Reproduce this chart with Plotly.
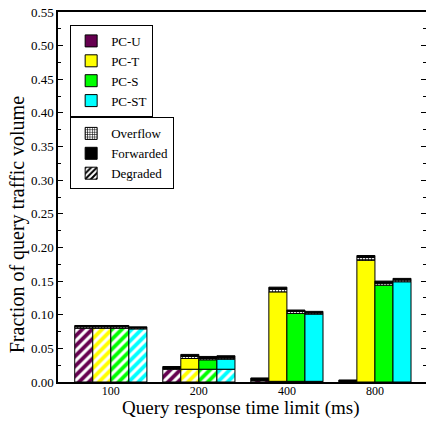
import plotly.graph_objects as go

categories = ["100", "200", "400", "800"]
series = ["PC-U", "PC-T", "PC-S", "PC-ST"]
colors = {"PC-U": "#660050", "PC-T": "#FFFF00", "PC-S": "#00FF00", "PC-ST": "#00FFFF"}

degraded = {
    "PC-U": [0.080, 0.019, 0.002, 0.000],
    "PC-T": [0.080, 0.019, 0.001, 0.000],
    "PC-S": [0.080, 0.019, 0.001, 0.000],
    "PC-ST": [0.079, 0.019, 0.001, 0.000],
}
normal = {
    "PC-U": [0.000, 0.000, 0.000, 0.000],
    "PC-T": [0.000, 0.016, 0.133, 0.181],
    "PC-S": [0.000, 0.014, 0.101, 0.144],
    "PC-ST": [0.000, 0.015, 0.100, 0.149],
}
overflow = {
    "PC-U": [0.002, 0.001, 0.001, 0.001],
    "PC-T": [0.002, 0.003, 0.004, 0.004],
    "PC-S": [0.002, 0.002, 0.003, 0.003],
    "PC-ST": [0.002, 0.002, 0.002, 0.003],
}
forwarded = {
    "PC-U": [0.002, 0.003, 0.003, 0.002],
    "PC-T": [0.002, 0.003, 0.003, 0.003],
    "PC-S": [0.002, 0.003, 0.002, 0.003],
    "PC-ST": [0.001, 0.003, 0.002, 0.002],
}

FONT = "Liberation Serif"
LINE = dict(color="black", width=1)

def nz(vals):
    return [v if v > 0 else None for v in vals]

fig = go.Figure()

for s in series:
    c = colors[s]
    base = [0.0] * len(categories)
    layers = [
        ("deg", degraded[s], dict(color=c, line=LINE,
                                  pattern=dict(shape="/", fgcolor="white", bgcolor=c,
                                               size=7, solidity=0.45, fillmode="replace"))),
        ("norm", normal[s], dict(color=c, line=LINE)),
        ("ovf", overflow[s], dict(color="white", line=LINE,
                                  pattern=dict(shape="+", fgcolor="black", bgcolor="white",
                                               size=3, solidity=0.4, fillmode="replace"))),
        ("fwd", forwarded[s], dict(color="black", line=LINE)),
    ]
    for key, vals, marker in layers:
        fig.add_trace(go.Bar(
            x=categories, y=nz(vals), base=list(base),
            offsetgroup=s, name=s, marker=marker,
            showlegend=(key == "norm"), legend="legend",
            hoverinfo="skip",
        ))
        base = [b + v for b, v in zip(base, vals)]

# legend entries for the segment types
seg_legend = [
    ("Overflow", dict(color="white", line=LINE,
                      pattern=dict(shape="+", fgcolor="black", bgcolor="white",
                                   size=3, solidity=0.4, fillmode="replace"))),
    ("Forwarded", dict(color="black", line=LINE)),
    ("Degraded", dict(color="white", line=LINE,
                      pattern=dict(shape="/", fgcolor="black", bgcolor="white",
                                   size=5, solidity=0.5, fillmode="replace"))),
]
for name, marker in seg_legend:
    fig.add_trace(go.Bar(
        x=categories, y=[None] * len(categories), offsetgroup="PC-U",
        name=name, marker=marker, legend="legend2", showlegend=True,
    ))

legend_common = dict(
    bgcolor="white", bordercolor="black", borderwidth=1,
    font=dict(family=FONT, size=13, color="black"),
    xanchor="left", yanchor="top", traceorder="normal",
    itemclick=False, itemdoubleclick=False,
)

fig.update_layout(
    width=426, height=422,
    margin=dict(l=58, r=0, t=12, b=40, autoexpand=False),
    paper_bgcolor="white", plot_bgcolor="white",
    barmode="group", bargap=0.18, bargroupgap=0,
    font=dict(family=FONT, size=13, color="black"),
    legend=dict(x=0.033, y=0.965, **legend_common),
    legend2=dict(x=0.033, y=0.715, **legend_common),
    xaxis=dict(
        type="category", range=[-0.6, 3.58], automargin=False,
        showline=True, linecolor="black", linewidth=2, mirror=True,
        ticks="", showgrid=False, zeroline=False, ticklabelstandoff=-3,
        tickfont=dict(family=FONT, size=12, color="black"),
    ),
    yaxis=dict(
        range=[0, 0.55], dtick=0.05, tick0=0, tickformat=".2f", automargin=False,
        showline=True, linecolor="black", linewidth=1.5, mirror="ticks",
        ticks="inside", ticklen=5, tickcolor="black", tickwidth=1,
        ticklabeloverflow="allow",
        minor=dict(ticks="inside", dtick=0.025, ticklen=3, tickcolor="black", showgrid=False),
        showgrid=False, zeroline=False,
        tickfont=dict(family=FONT, size=13, color="black"),
    ),
    annotations=[
        dict(text="Query response time limit (ms)", xref="paper", yref="paper",
             x=0.4946, y=-0.0716, showarrow=False, xanchor="center", yanchor="middle",
             font=dict(family=FONT, size=19, color="black")),
        dict(text="Fraction of query traffic volume", xref="paper", yref="paper",
             x=-0.111, y=0.424, showarrow=False, textangle=-90,
             xanchor="center", yanchor="middle",
             font=dict(family=FONT, size=20, color="black")),
    ],
)

fig.write_html("out.html", config={"displayModeBar": False},
               post_script="document.body.style.margin='0';document.body.style.padding='0';")
